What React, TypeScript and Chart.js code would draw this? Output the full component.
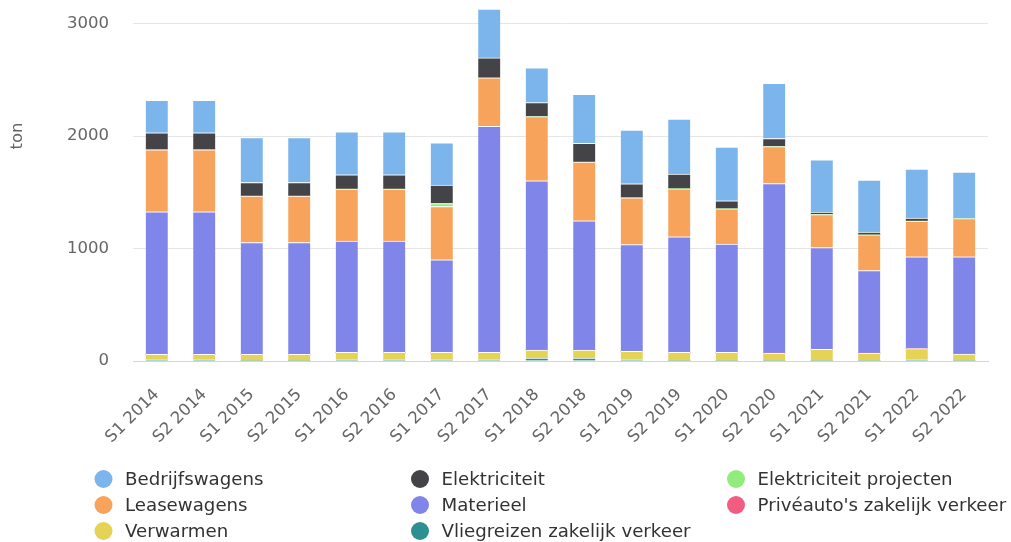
import { useEffect, useRef } from "react";
import { Chart, registerables } from "chart.js";

Chart.register(...registerables);

// Half-year periods on the category axis
const periods = [
  "S1 2014", "S2 2014", "S1 2015", "S2 2015", "S1 2016", "S2 2016",
  "S1 2017", "S2 2017", "S1 2018", "S2 2018", "S1 2019", "S2 2019",
  "S1 2020", "S2 2020", "S1 2021", "S2 2021", "S1 2022", "S2 2022",
];

// CO2 emissions per source, in tons
const bedrijfswagens = [288, 288, 398, 398, 383, 383, 377, 435, 309, 436, 478, 489, 478, 490, 466, 463, 436, 411];
const elektriciteit = [151, 151, 121, 121, 127, 127, 163, 178, 124, 166, 124, 131, 71, 71, 21, 24, 27, 2];
const elektriciteitProjecten = [0, 0, 0, 0, 0, 0, 27, 0, 0, 0, 0, 0, 0, 0, 0, 0, 0, 0];
const leasewagens = [552, 552, 413, 413, 463, 463, 474, 431, 570, 522, 416, 427, 314, 329, 294, 317, 317, 341];
const materieel = [1266, 1266, 993, 993, 989, 989, 823, 2009, 1504, 1148, 949, 1028, 963, 1508, 904, 734, 815, 864];
const priveautos = [0, 0, 0, 0, 0, 0, 0, 0, 0, 0, 0, 0, 0, 0, 0, 0, 0, 0];
const verwarmen = [46, 46, 60, 60, 62, 62, 62, 62, 73, 73, 72, 76, 76, 70, 104, 70, 97, 62];
const vliegreizen = [14, 14, 0, 0, 14, 14, 14, 14, 25, 25, 14, 0, 0, 0, 0, 0, 14, 0];

const yTicks = [0, 1000, 2000, 3000, 4000];

// Series in legend order (alphabetical); the first one sits on top of the stack
const series = [
  { label: "Bedrijfswagens", data: bedrijfswagens, color: "#7cb5ec" },
  { label: "Elektriciteit", data: elektriciteit, color: "#434348" },
  { label: "Elektriciteit projecten", data: elektriciteitProjecten, color: "#90ed7d" },
  { label: "Leasewagens", data: leasewagens, color: "#f7a35c" },
  { label: "Materieel", data: materieel, color: "#8085e9" },
  { label: "Privéauto's zakelijk verkeer", data: priveautos, color: "#f15c80" },
  { label: "Verwarmen", data: verwarmen, color: "#e4d354" },
  { label: "Vliegreizen zakelijk verkeer", data: vliegreizen, color: "#2b908f" },
];

const FONT = "'DejaVu Sans', Verdana, sans-serif";
const CANVAS_W = 1011;
const CANVAS_H = 642;
const CANVAS_SHIFT = 100;

// Three-column legend drawn under the axis labels
const gridLegend = {
  id: "gridLegend",
  afterDraw(chart: any) {
    const ctx: CanvasRenderingContext2D = chart.ctx;
    const colX = [103.5, 420, 736];
    const rowY = [579, 605, 631];
    ctx.save();
    ctx.font = `18.2px ${FONT}`;
    ctx.textBaseline = "middle";
    ctx.textAlign = "left";
    series.forEach((s, i) => {
      const x = colX[i % 3];
      const y = rowY[Math.floor(i / 3)];
      ctx.beginPath();
      ctx.arc(x, y, 9, 0, Math.PI * 2);
      ctx.fillStyle = s.color;
      ctx.fill();
      ctx.fillStyle = "#333333";
      ctx.fillText(s.label, x + 21.5, y + 1);
    });
    ctx.restore();
  },
};

export default function App() {
  const canvasRef = useRef<HTMLCanvasElement | null>(null);

  useEffect(() => {
    document.body.style.margin = "0";
    const canvas = canvasRef.current;
    if (!canvas) return;

    const datasets = [...series].reverse().map((s) => ({
      label: s.label,
      data: s.data,
      backgroundColor: s.color,
      borderColor: "#ffffff",
      borderWidth: { top: 1, right: 0, bottom: 0, left: 0 },
      borderSkipped: false as const,
      barThickness: 22,
    }));

    const chart = new Chart(canvas, {
      type: "bar",
      data: { labels: periods, datasets },
      plugins: [gridLegend],
      options: {
        responsive: false,
        animation: false,
        layout: { padding: { top: 11, right: 23, bottom: 0, left: 0 } },
        plugins: {
          legend: { display: false },
          tooltip: { enabled: false },
        },
        scales: {
          x: {
            stacked: true,
            grid: { display: false },
            border: { display: true, color: "#ccd6eb", width: 1 },
            ticks: {
              color: "#666666",
              font: { family: FONT, size: 16.5 },
              maxRotation: 45,
              minRotation: 45,
              padding: 16,
              autoSkip: false,
            },
            afterFit(scale: any) {
              scale.height = 181;
              scale.paddingLeft = 0;
              scale.paddingRight = 0;
            },
          },
          y: {
            stacked: true,
            min: yTicks[0],
            max: yTicks[yTicks.length - 1],
            afterBuildTicks(scale: any) {
              scale.ticks = yTicks.map((v) => ({ value: v }));
            },
            grid: { color: "#e6e6e6", lineWidth: 1, drawTicks: false },
            border: { display: false },
            ticks: {
              color: "#666666",
              font: { family: FONT, size: 16.5 },
              padding: 24,
              callback: (v: any) => String(v),
            },
            title: {
              display: true,
              text: "ton",
              color: "#666666",
              font: { family: FONT, size: 16.5 },
              padding: { top: 8, bottom: 0 },
            },
            afterFit(scale: any) {
              scale.width = 133;
              scale.paddingTop = 0;
              scale.paddingBottom = 0;
            },
          },
        },
      },
    });

    return () => chart.destroy();
  }, []);

  return (
    <div style={{ position: "relative", width: CANVAS_W, height: 542, overflow: "hidden", background: "#ffffff" }}>
      <canvas
        ref={canvasRef}
        width={CANVAS_W}
        height={CANVAS_H}
        style={{ position: "absolute", left: 0, top: -CANVAS_SHIFT, width: CANVAS_W, height: CANVAS_H }}
      />
    </div>
  );
}
